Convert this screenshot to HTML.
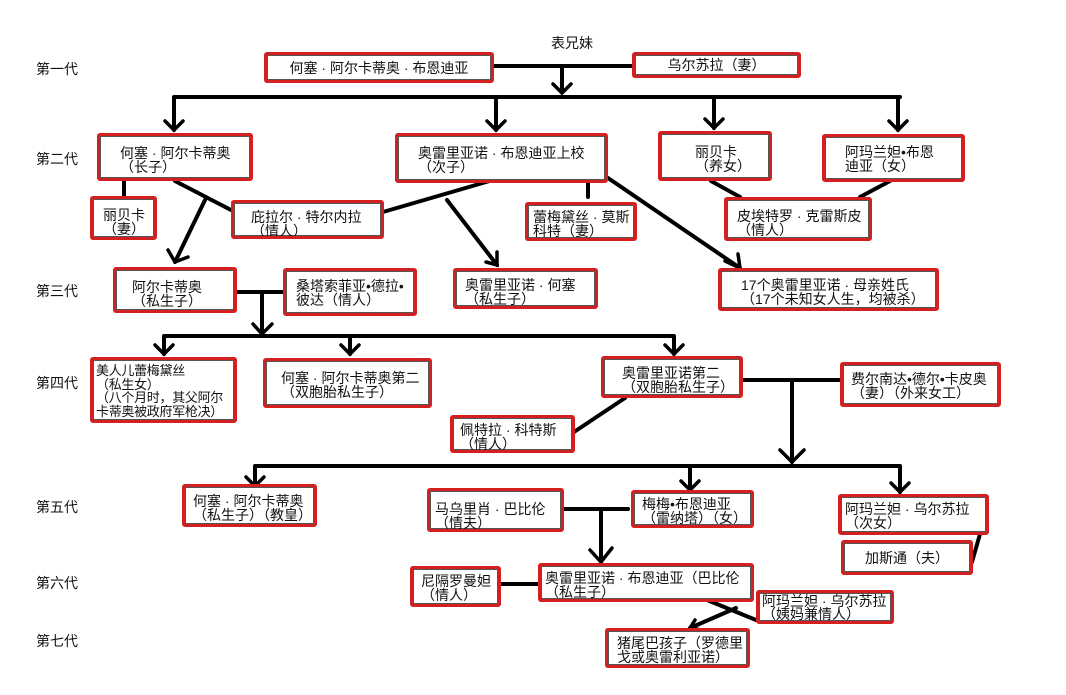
<!DOCTYPE html>
<html><head><meta charset="utf-8"><style>
body{margin:0;background:#fff;width:1066px;height:695px;position:relative;overflow:hidden;font-family:"Liberation Sans","Noto Sans CJK SC",sans-serif;color:#111}
.b{position:absolute;border:3px solid #d42020;border-radius:3px;box-sizing:border-box;font-size:14px;line-height:14px;padding:4px 6px;background:#fff;box-shadow:0 0 0 1px #555 inset;white-space:nowrap;overflow:hidden}
.g{position:absolute;left:36px;font-size:14px}
.c{text-align:center;display:flex;align-items:center;justify-content:center}
svg{position:absolute;left:0;top:0}
</style></head><body>
<svg width="1066" height="695" fill="none" stroke="#000" stroke-width="4" stroke-linecap="round">
<path d="M493 66H632M562 66V92M174 97H900M174 97V130M496 97V130M714 97V128M898 97V130"/>
<path d="M124 180V196M175 181L231 210M205 200L175 262M493 180L383 212M447 200L497 265M588 182V197M608 178L740 268M711 181L740 197M890 181L860 197"/>
<path d="M236 292H283M262 292V334M164 336H674M164 336V354M350 336V354M674 336V354"/>
<path d="M742 380H840M792 380V462M255 466H900M255 466V486M690 466V490M900 466V492M625 398L574 432"/>
<path d="M563 509H628M601 509V562M980 534L972 562M500 584H538M707 600L756 620M736 608L690 628"/>
<g stroke-width="3.5">
<path d="M553 84L562 93L571 84M165 121L174 130L183 121M487 121L496 130L505 121M705 119L714 128L723 119M889 121L898 130L907 121"/>
<path d="M168 250L175 262L188 257M486 262L497 265L497 252M725 261L740 268L738 254"/>
<path d="M253 324L262 334L272 324M155 345L164 354L173 345M341 345L350 354L359 345M665 345L674 354L683 345"/>
<path d="M780 450L792 462L804 450M246 477L255 486L264 477M681 481L690 490L699 481M891 483L900 492L909 483M590 550L601 562L612 548M695 620L690 628L702 630"/>
</g></svg>
<div style="position:absolute;left:551px;top:33px;font-size:14px">表兄妹</div>
<div class="g" style="top:59px">第一代</div>
<div class="g" style="top:149px">第二代</div>
<div class="g" style="top:281px">第三代</div>
<div class="g" style="top:373px">第四代</div>
<div class="g" style="top:497px">第五代</div>
<div class="g" style="top:573px">第六代</div>
<div class="g" style="top:631px">第七代</div>

<div class="b c" style="left:264px;top:52px;width:230px;height:31px">何塞 · 阿尔卡蒂奥 · 布恩迪亚</div>
<div class="b c" style="left:632px;top:52px;width:169px;height:26px">乌尔苏拉（妻）</div>

<div class="b" style="left:97px;top:133px;width:156px;height:48px;padding:10px 0 0 20px">何塞 · 阿尔卡蒂奥<br>（长子）</div>
<div class="b" style="left:395px;top:133px;width:213px;height:50px;padding:10px 0 0 20px">奥雷里亚诺 · 布恩迪亚上校<br>（次子）</div>
<div class="b" style="left:658px;top:131px;width:114px;height:50px;padding:11px 0 0 34px">丽贝卡<br>（养女）</div>
<div class="b" style="left:822px;top:134px;width:143px;height:48px;padding:8px 0 0 20px">阿玛兰妲•布恩<br>迪亚（女）</div>
<div class="b" style="left:90px;top:196px;width:67px;height:44px;padding:9px 0 0 10px">丽贝卡<br>（妻）</div>
<div class="b" style="left:231px;top:200px;width:153px;height:39px;padding:7px 0 0 17px">庇拉尔 · 特尔内拉<br>（情人）</div>
<div class="b" style="left:525px;top:202px;width:112px;height:39px;padding:5px 0 0 5px">蕾梅黛丝 · 莫斯<br>科特（妻）</div>
<div class="b" style="left:724px;top:197px;width:148px;height:44px;padding:9px 0 0 10px">皮埃特罗 · 克雷斯皮<br>（情人）</div>

<div class="b" style="left:113px;top:267px;width:124px;height:46px;padding:10px 0 0 16px">阿尔卡蒂奥<br>（私生子）</div>
<div class="b" style="left:283px;top:268px;width:134px;height:48px;padding:8px 0 0 10px">桑塔索菲亚•德拉•<br>彼达（情人）</div>
<div class="b" style="left:453px;top:268px;width:145px;height:41px;padding:7px 0 0 9px">奥雷里亚诺 · 何塞<br>（私生子）</div>
<div class="b" style="left:718px;top:268px;width:221px;height:43px;padding:7px 0 0 20px">17个奥雷里亚诺 · 母亲姓氏<br>（17个未知女人生，均被杀）</div>

<div class="b" style="left:90px;top:357px;width:147px;height:66px;padding:4px 0 0 3px;line-height:13.5px;font-size:13px;letter-spacing:-0.3px">美人儿蕾梅黛丝<br>（私生女）<br>（八个月时，其父阿尔<br>卡蒂奥被政府军枪决）</div>
<div class="b" style="left:263px;top:358px;width:169px;height:50px;padding:10px 0 0 15px">何塞 · 阿尔卡蒂奥第二<br>（双胞胎私生子）</div>
<div class="b" style="left:601px;top:356px;width:142px;height:42px;padding:7px 0 0 18px">奥雷里亚诺第二<br>（双胞胎私生子）</div>
<div class="b" style="left:840px;top:362px;width:161px;height:45px;padding:7px 0 0 8px">费尔南达•德尔•卡皮奥<br>（妻）（外来女工）</div>
<div class="b" style="left:450px;top:415px;width:125px;height:38px;padding:5px 0 0 7px">佩特拉 · 科特斯<br>（情人）</div>

<div class="b" style="left:182px;top:484px;width:135px;height:43px;padding:7px 0 0 8px">何塞 · 阿尔卡蒂奥<br>（私生子）（教皇）</div>
<div class="b" style="left:427px;top:488px;width:137px;height:44px;padding:11px 0 0 5px">马乌里肖 · 巴比伦<br>（情夫）</div>
<div class="b" style="left:631px;top:490px;width:123px;height:38px;padding:4px 0 0 8px">梅梅•布恩迪亚<br>（雷纳塔）（女）</div>
<div class="b" style="left:838px;top:494px;width:151px;height:41px;padding:5px 0 0 4px">阿玛兰妲 · 乌尔苏拉<br>（次女）</div>
<div class="b c" style="left:841px;top:540px;width:132px;height:35px">加斯通（夫）</div>

<div class="b" style="left:410px;top:566px;width:91px;height:41px;padding:5px 0 0 8px">尼隔罗曼妲<br>（情人）</div>
<div class="b" style="left:538px;top:563px;width:216px;height:39px;padding:5px 0 0 4px">奥雷里亚诺 · 布恩迪亚（巴比伦<br>（私生子）</div>
<div class="b" style="left:756px;top:590px;width:138px;height:34px;padding:2px 0 0 3px;line-height:13px">阿玛兰妲 · 乌尔苏拉<br>（姨妈兼情人）</div>
<div class="b" style="left:605px;top:628px;width:145px;height:40px;padding:5px 0 0 9px">猪尾巴孩子（罗德里<br>戈或奥雷利亚诺）</div>
</body></html>
